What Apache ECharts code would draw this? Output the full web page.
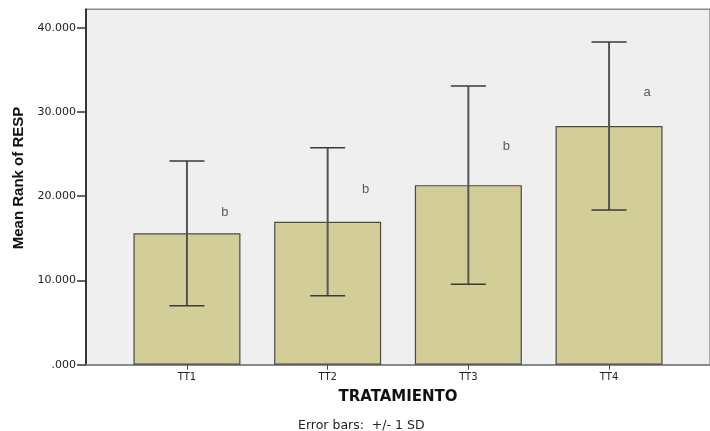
<!DOCTYPE html>
<html>
<head>
<meta charset="utf-8">
<script src="https://cdn.jsdelivr.net/npm/echarts@6/dist/echarts.min.js"></script>
<style>
  html, body { margin: 0; padding: 0; background: #ffffff; }
  #chart { width: 710px; height: 431px; }
</style>
</head>
<body>
<div id="chart"></div>
<script>
// Treatment groups and their mean ranks with +/- 1 SD
const categories = ['TT1', 'TT2', 'TT3', 'TT4'];
const meanRank = [15.6, 16.97, 21.31, 28.33];
const sdRank = [8.59, 8.79, 11.77, 9.97];
// Group letters from the post-hoc comparison and the height they sit at
const groupLetters = ['b', 'b', 'b', 'a'];
const letterHeight = [18.1, 20.8, 25.95, 32.35];
// Y tick values
const yTicks = [0, 10, 20, 30, 40];
const xTicks = categories.map((c, i) => i);

const barData = meanRank.map((m, i) => [i, m]);
const errData = meanRank.map((m, i) => [i, m - sdRank[i], m + sdRank[i]]);
const letterData = letterHeight.map((v, i) => [i, v]);

const fmtY = v => (v === 0 ? '.000' : v.toFixed(3));

const chart = echarts.init(document.getElementById('chart'), null, { renderer: 'canvas' });

chart.setOption({
  animation: false,
  title: {
    text: 'Error bars:  +/- 1 SD',
    left: 293,
    top: 414,
    textStyle: { fontFamily: 'DejaVu Sans', fontSize: 12.5, fontWeight: 'normal', color: '#222' }
  },
  grid: {
    left: 86,
    top: 9.3,
    width: 632.3,
    bottom: 66.3,
    show: true,
    backgroundColor: '#efefef',
    borderColor: '#8a8a8a',
    borderWidth: 1.5
  },
  xAxis: {
    type: 'value',
    min: -0.7175,
    max: 3.7175,
    splitLine: { show: false },
    axisLine: { show: true, onZero: false, lineStyle: { color: '#8a8a8a', width: 2 } },
    axisTick: { show: true, customValues: xTicks, length: 5, lineStyle: { color: '#444', width: 1 } },
    axisLabel: {
      customValues: xTicks,
      formatter: v => categories[Math.round(v)],
      margin: 8,
      fontFamily: 'DejaVu Sans',
      fontSize: 10,
      color: '#222'
    },
    name: 'TRATAMIENTO',
    nameLocation: 'middle',
    nameGap: 25,
    nameTextStyle: { fontFamily: 'DejaVu Sans', fontWeight: 'bold', fontSize: 15, color: '#111' }
  },
  yAxis: {
    type: 'value',
    min: 0,
    max: 42.18,
    interval: 10,
    splitLine: { show: false },
    axisLine: { show: true, onZero: false, lineStyle: { color: '#111', width: 1.5 } },
    axisTick: { show: true, customValues: yTicks, length: 9, lineStyle: { color: '#333', width: 1.5 } },
    axisLabel: {
      customValues: yTicks,
      formatter: v => fmtY(v),
      margin: 10,
      fontFamily: 'DejaVu Sans',
      fontSize: 11,
      color: '#222'
    },
    name: 'Mean Rank of RESP',
    nameLocation: 'middle',
    nameGap: 60,
    nameTextStyle: {
      fontFamily: 'Liberation Sans',
      fontWeight: 'bold',
      fontSize: 15,
      color: '#111',
      padding: [0, 0, 0, 18]
    }
  },
  series: [
    {
      type: 'bar',
      data: barData,
      barWidth: 107,
      itemStyle: { color: '#d3ce97', borderColor: '#4a4a4a', borderWidth: 1.2 },
      z: 2
    },
    {
      type: 'custom',
      data: errData,
      z: 3,
      renderItem: function (params, api) {
        const x = api.value(0);
        const lo = api.coord([x, api.value(1)]);
        const hi = api.coord([x, api.value(2)]);
        const half = 17.5;
        const style = { stroke: '#3a3a3a', lineWidth: 1.5 };
        return {
          type: 'group',
          children: [
            { type: 'line', shape: { x1: hi[0], y1: hi[1], x2: lo[0], y2: lo[1] }, style: { stroke: '#555', lineWidth: 2 } },
            { type: 'line', shape: { x1: hi[0] - half, y1: hi[1], x2: hi[0] + half, y2: hi[1] }, style: style },
            { type: 'line', shape: { x1: lo[0] - half, y1: lo[1], x2: lo[0] + half, y2: lo[1] }, style: style }
          ]
        };
      }
    },
    {
      type: 'scatter',
      data: letterData,
      symbolSize: 0,
      z: 4,
      label: {
        show: true,
        position: 'inside',
        offset: [38, 0],
        formatter: p => groupLetters[p.dataIndex],
        fontFamily: 'Liberation Sans',
        fontSize: 13,
        color: '#333'
      }
    }
  ]
});
</script>
</body>
</html>
